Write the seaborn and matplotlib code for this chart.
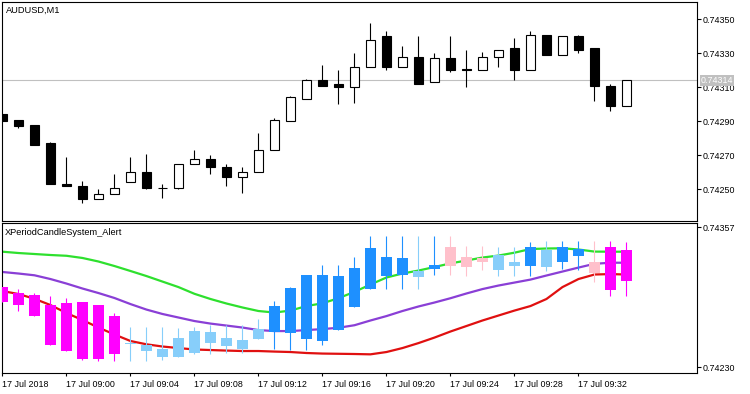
import numpy as np
import pandas as pd
import matplotlib
matplotlib.use("Agg")
import matplotlib.pyplot as plt
import seaborn as sns
from matplotlib.ticker import FormatStrFormatter

# Data: AUDUSD M1 bars, 17 Jul 2018 08:56 .. 09:35
times = pd.date_range("2018-07-17 08:56", periods=40, freq="min")

opens = [0.74294, 0.74291, 0.74288, 0.74277, 0.74253, 0.74252, 0.74244, 0.74247, 0.74254, 0.74260,
         0.74251, 0.74251, 0.74265, 0.74268, 0.74263, 0.74257, 0.74260, 0.74273, 0.74290, 0.74303,
         0.74314, 0.74312, 0.74310, 0.74322, 0.74340, 0.74322, 0.74328, 0.74313, 0.74327, 0.74321,
         0.74320, 0.74328, 0.74333, 0.74320, 0.74341, 0.74329, 0.74340, 0.74333, 0.74311, 0.74299]
highs = [0.74294, 0.74291, 0.74288, 0.74278, 0.74269, 0.74255, 0.74250, 0.74259, 0.74269, 0.74271,
         0.74253, 0.74265, 0.74273, 0.74270, 0.74265, 0.74263, 0.74283, 0.74292, 0.74305, 0.74315,
         0.74323, 0.74320, 0.74330, 0.74348, 0.74343, 0.74334, 0.74340, 0.74330, 0.74340, 0.74332,
         0.74331, 0.74332, 0.74339, 0.74343, 0.74341, 0.74340, 0.74341, 0.74333, 0.74312, 0.74314]
lows = [0.74290, 0.74286, 0.74276, 0.74253, 0.74252, 0.74242, 0.74244, 0.74247, 0.74254, 0.74250,
        0.74245, 0.74250, 0.74265, 0.74259, 0.74252, 0.74248, 0.74260, 0.74273, 0.74290, 0.74303,
        0.74311, 0.74300, 0.74301, 0.74322, 0.74320, 0.74322, 0.74312, 0.74313, 0.74319, 0.74310,
        0.74320, 0.74322, 0.74314, 0.74320, 0.74329, 0.74329, 0.74330, 0.74302, 0.74296, 0.74299]
closes = [0.74290, 0.74287, 0.74276, 0.74253, 0.74252, 0.74244, 0.74247, 0.74251, 0.74260, 0.74251,
          0.74251, 0.74265, 0.74268, 0.74263, 0.74257, 0.74260, 0.74273, 0.74291, 0.74304, 0.74314,
          0.74311, 0.74310, 0.74322, 0.74338, 0.74322, 0.74328, 0.74312, 0.74327, 0.74320, 0.74320,
          0.74328, 0.74332, 0.74320, 0.74341, 0.74329, 0.74340, 0.74332, 0.74311, 0.74299, 0.74314]
last_price = 0.74314

# XPeriodCandleSystem candles
x_open = [0.74303, 0.74297, 0.74296, 0.74287, 0.74288, 0.74289, 0.74287, 0.74277, 0.74251, 0.74245,
          0.74239, 0.74239, 0.74243, 0.74252, 0.74249, 0.74247, 0.74256, 0.74262, 0.74261, 0.74256,
          0.74254, 0.74264, 0.74285, 0.74301, 0.74313, 0.74314, 0.74312, 0.74319, 0.74339, 0.74330,
          0.74329, 0.74318, 0.74322, 0.74322, 0.74321, 0.74326, 0.74331, 0.74326, 0.74339, 0.74336]
x_high = [0.74303, 0.74301, 0.74297, 0.74295, 0.74293, 0.74289, 0.74287, 0.74279, 0.74267, 0.74267,
          0.74267, 0.74266, 0.74267, 0.74268, 0.74268, 0.74268, 0.74274, 0.74290, 0.74303, 0.74314,
          0.74323, 0.74323, 0.74330, 0.74349, 0.74349, 0.74349, 0.74349, 0.74349, 0.74349, 0.74340,
          0.74340, 0.74339, 0.74339, 0.74344, 0.74345, 0.74345, 0.74345, 0.74345, 0.74345, 0.74344]
x_low = [0.74289, 0.74281, 0.74277, 0.74250, 0.74245, 0.74237, 0.74236, 0.74236, 0.74236, 0.74236,
         0.74237, 0.74239, 0.74242, 0.74242, 0.74243, 0.74243, 0.74256, 0.74247, 0.74246, 0.74246,
         0.74250, 0.74264, 0.74285, 0.74301, 0.74301, 0.74301, 0.74301, 0.74314, 0.74314, 0.74313,
         0.74318, 0.74313, 0.74313, 0.74313, 0.74317, 0.74319, 0.74318, 0.74307, 0.74295, 0.74295]
x_close = [0.74289, 0.74287, 0.74277, 0.74250, 0.74245, 0.74238, 0.74238, 0.74242, 0.74252, 0.74250,
           0.74247, 0.74257, 0.74263, 0.74262, 0.74257, 0.74255, 0.74265, 0.74286, 0.74302, 0.74314,
           0.74314, 0.74313, 0.74320, 0.74338, 0.74330, 0.74329, 0.74317, 0.74323, 0.74322, 0.74321,
           0.74326, 0.74332, 0.74326, 0.74339, 0.74336, 0.74339, 0.74337, 0.74316, 0.74300, 0.74308]
# -2 strong down, -1 weak down, 1 weak up, 2 strong up
x_signal = [-2, -2, -2, -2, -2, -2, -2, -2, 1, 1,
            1, 1, 1, 1, 1, 1, 1, 2, 2, 2,
            2, 2, 2, 2, 2, 2, 1, 2, -1, -1,
            -1, 1, 1, 2, 1, 2, 2, -1, -2, -2]

upper_line = [0.743349, 0.743337, 0.743328, 0.743319, 0.743312, 0.743292, 0.743260, 0.743219, 0.743174, 0.743128,
              0.743078, 0.743028, 0.742967, 0.742920, 0.742879, 0.742843, 0.742811, 0.742797, 0.742815, 0.742856,
              0.742881, 0.742927, 0.742985, 0.743051, 0.743115, 0.743151, 0.743178, 0.743210, 0.743243, 0.743269,
              0.743296, 0.743314, 0.743340, 0.743373, 0.743378, 0.743380, 0.743369, 0.743350, 0.743349, 0.743349]
middle_line = [0.743165, 0.743151, 0.743135, 0.743101, 0.743060, 0.743015, 0.742974, 0.742929, 0.742874, 0.742824,
               0.742784, 0.742752, 0.742720, 0.742697, 0.742679, 0.742661, 0.742638, 0.742629, 0.742629, 0.742638,
               0.742647, 0.742659, 0.742682, 0.742725, 0.742765, 0.742811, 0.742852, 0.742888, 0.742927, 0.742970,
               0.743010, 0.743042, 0.743069, 0.743096, 0.743133, 0.743169, 0.743205, 0.743239, 0.743249, 0.743249]
lower_line = [0.742992, 0.742965, 0.742922, 0.742865, 0.742793, 0.742729, 0.742661, 0.742598, 0.742539, 0.742509,
              0.742489, 0.742475, 0.742462, 0.742457, 0.742452, 0.742448, 0.742448, 0.742443, 0.742439, 0.742430,
              0.742425, 0.742423, 0.742421, 0.742418, 0.742439, 0.742475, 0.742520, 0.742570, 0.742625, 0.742675,
              0.742725, 0.742770, 0.742815, 0.742856, 0.742920, 0.743028, 0.743101, 0.743142, 0.743146, 0.743142]

tick_labels = ["17 Jul 2018", "17 Jul 09:00", "17 Jul 09:04", "17 Jul 09:08", "17 Jul 09:12",
               "17 Jul 09:16", "17 Jul 09:20", "17 Jul 09:24", "17 Jul 09:28", "17 Jul 09:32"]

signal_colors = {-2: "#ff00ff", -1: "#ffc0cb", 1: "#87cefa", 2: "#1e90ff"}

# Style
sns.set_theme(style="white")
plt.rcParams["font.family"] = ["Liberation Sans", "DejaVu Sans"]
plt.rcParams["axes.edgecolor"] = "black"
plt.rcParams["axes.linewidth"] = 0.8

x = np.arange(len(times))
tick_pos = np.arange(0, len(times), 4)[:len(tick_labels)]

fig = plt.figure(figsize=(7.5, 3.94), dpi=100, facecolor="white")
ax1 = fig.add_axes([0.00307, 0.43985, 0.92587, 0.55431])
ax2 = fig.add_axes([0.00307, 0.05254, 0.92587, 0.38223])


def draw_candles(ax, o, h, l, c, fills, edges, wicks, width, z):
    o, h, l, c = map(np.asarray, (o, h, l, c))
    ax.vlines(x, l, h, colors=wicks, linewidth=0.8, zorder=z)
    lo = np.minimum(o, c)
    ht = np.abs(c - o)
    ax.bar(x, ht, bottom=lo, width=width, color=fills, edgecolor=edges,
           linewidth=0.8 if edges is not None else 0, zorder=z + 1)


# Top panel: price candles
bull = np.asarray(closes) >= np.asarray(opens)
fills = ["white" if b else "black" for b in bull]
ax1.axhline(last_price, color="#c0c0c0", linewidth=0.8, zorder=1)
draw_candles(ax1, opens, highs, lows, closes, fills, "black", "black", 0.62, 2)

ax1.set_xlim(-0.01, 43.39)
ax1.set_ylim(0.742315, 0.743600)
ax1.set_xticks([])
ax1.yaxis.tick_right()
ax1.set_yticks(np.arange(0.74250, 0.74351, 0.0002))
ax1.yaxis.set_major_formatter(FormatStrFormatter("%.5f"))
ax1.tick_params(axis="y", direction="out", length=3, width=0.8, pad=1.5,
                labelsize=6.4, colors="black", right=True)
ax1.annotate(f"{last_price:.5f}", xy=(1, last_price), xycoords=ax1.get_yaxis_transform(),
             xytext=(3.0, 0), textcoords="offset points", ha="left", va="center",
             fontsize=6.4, color="white", annotation_clip=False, zorder=10,
             bbox=dict(boxstyle="square,pad=0.12", fc="#c0c0c0", ec="none"))
ax1.text(0.006, 0.962, "AUDUSD,M1", transform=ax1.transAxes, fontsize=6.7,
         ha="left", va="center", color="black")

# Bottom panel: XPeriodCandleSystem
line_df = pd.DataFrame({"x": x, "upper": upper_line, "middle": middle_line, "lower": lower_line})
sns.lineplot(data=line_df, x="x", y="upper", ax=ax2, color="#2ee02e", linewidth=1.6, zorder=2)
sns.lineplot(data=line_df, x="x", y="middle", ax=ax2, color="#8a3fd6", linewidth=1.6, zorder=2)
sns.lineplot(data=line_df, x="x", y="lower", ax=ax2, color="#e01010", linewidth=1.6, zorder=2)

cols = [signal_colors[s] for s in x_signal]
draw_candles(ax2, x_open, x_high, x_low, x_close, cols, None, cols, 0.67, 3)

ax2.set_xlim(-0.01, 43.39)
ax2.set_ylim(0.742246, 0.743612)
ax2.set_xlabel("")
ax2.set_ylabel("")
ax2.yaxis.tick_right()
ax2.set_yticks([0.74230, 0.74357])
ax2.yaxis.set_major_formatter(FormatStrFormatter("%.5f"))
ax2.tick_params(axis="y", direction="out", length=3, width=0.8, pad=1.5,
                labelsize=6.4, colors="black", right=True)
ax2.set_xticks(tick_pos)
ax2.set_xticklabels(tick_labels, ha="left")
ax2.tick_params(axis="x", direction="out", length=2.5, width=0.8, pad=2.5,
                labelsize=6.4, colors="black", bottom=True)
ax2.text(0.004, 0.935, "XPeriodCandleSystem_Alert", transform=ax2.transAxes, fontsize=6.7,
         ha="left", va="center", color="black")

for ax in (ax1, ax2):
    for sp in ax.spines.values():
        sp.set_color("black")
        sp.set_linewidth(0.8)
    ax.grid(False)

fig.savefig("out.png", dpi=100, facecolor="white")
